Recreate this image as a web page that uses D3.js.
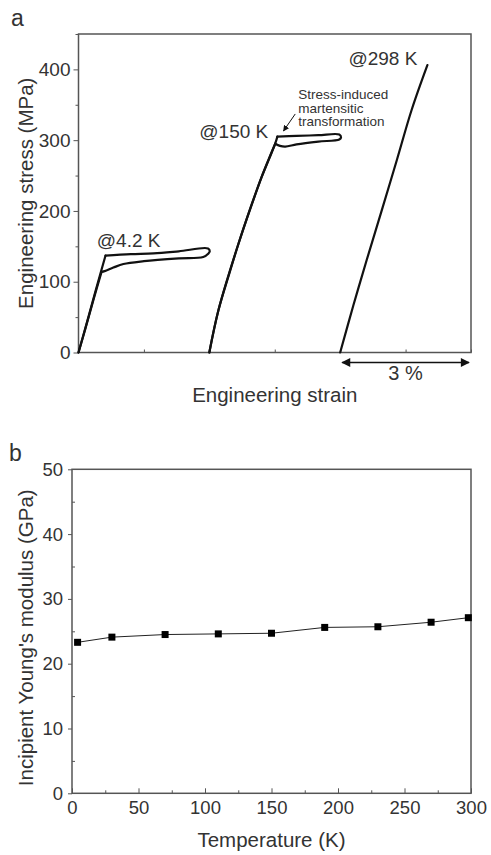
<!DOCTYPE html>
<html>
<head>
<meta charset="utf-8">
<script src="https://cdn.jsdelivr.net/npm/d3@7"></script>
<style>
  body { margin: 0; background: #fff; }
  svg text { font-family: "Liberation Sans", Arial, sans-serif; fill: #333; }
</style>
</head>
<body>
<svg id="fig" width="491" height="855"></svg>
<script>
// Panel a : stress-strain curves (strain in %, stress in MPa, curves offset along strain)
const strain4K = [0, 0.2, 0.4, 0.62, 1.2, 1.72, 2.3, 2.97, 3.01, 2.98, 2.86, 2.3, 1.5, 1.03, 0.8, 0.6, 0.53, 0.35, 0.15, 0];
const stress4K = [0, 44, 89, 137, 139, 140, 143, 147, 143, 140, 135, 133, 129, 125, 120, 115, 114, 76, 32, 0];
const corners4K = [3, 16];

const strain150K = [3.0, 3.21, 3.45, 3.67, 3.95, 4.20, 4.38, 4.51, 4.56, 5.0, 5.5, 5.98, 6.02, 5.98, 5.5, 5.0, 4.74, 4.62, 4.51, 4.20, 3.67, 3.21, 3.0];
const stress150K = [0, 60, 110, 154, 205, 248, 275, 295, 305, 306, 307, 308, 304, 301, 298, 294, 291, 292, 295, 248, 154, 60, 0];
const corners150K = [8, 18];

const strain298K = [6.0, 6.3, 6.61, 6.95, 7.30, 7.64, 8.0];
const stress298K = [0, 66, 131, 200, 272, 343, 406];
const corners298K = [];

const curveLabels = ["@4.2 K", "@150 K", "@298 K"];
const curveLabelX = [0.42, 2.77, 6.19];
const curveLabelY = [148.6, 303.5, 406];

const noteLines = ["Stress-induced", "martensitic", "transformation"];
const stressTicks = [0, 100, 200, 300, 400];
const strainTicks = [0, 1.5, 3, 4.5, 6, 7.5, 9];
const scaleBar = [6, 9]; // 3 % strain

// Panel b : incipient Young's modulus vs temperature
const temps = [4.2, 30, 70, 110, 150, 190, 230, 270, 298];
const modulus = [23.3, 24.1, 24.5, 24.6, 24.7, 25.6, 25.7, 26.4, 27.1];
const tempTicks = [0, 50, 100, 150, 200, 250, 300];
const modTicks = [0, 10, 20, 30, 40, 50];

const svg = d3.select('#fig');
const frameColor = '#555';
const defs = svg.append('defs');

// small arrow head for the annotation
defs.append('marker')
  .attr('id', 'head')
  .attr('viewBox', '0 0 10 10')
  .attr('refX', 9).attr('refY', 5)
  .attr('markerWidth', 6).attr('markerHeight', 6)
  .attr('orient', 'auto-start-reverse')
  .append('path').attr('d', 'M0,0L10,5L0,10Z').attr('fill', '#111');

// larger head for the 3 % bar
defs.append('marker')
  .attr('id', 'bighead')
  .attr('viewBox', '0 0 10 10')
  .attr('refX', 9).attr('refY', 5)
  .attr('markerWidth', 16).attr('markerHeight', 9)
  .attr('markerUnits', 'userSpaceOnUse')
  .attr('orient', 'auto-start-reverse')
  .append('path').attr('d', 'M0,0L10,5L0,10Z').attr('fill', '#111');

// ---------- panel a ----------
const xa = d3.scaleLinear().domain([0, 9]).range([78.5, 471]);
const ya = d3.scaleLinear().domain([0, 450]).range([352.5, 34]);

const ga = svg.append('g');

// y axis, ticks outside
ga.append('g')
  .attr('transform', 'translate(' + xa(0) + ',0)')
  .call(d3.axisLeft(ya).tickValues(d3.range(50, 451, 100)).tickSize(3).tickFormat(''))
  .call(g => g.select('.domain').remove());
ga.append('g')
  .attr('transform', 'translate(' + xa(0) + ',0)')
  .call(d3.axisLeft(ya).tickValues(stressTicks).tickSize(5).tickPadding(3).tickSizeOuter(0))
  .call(g => g.select('.domain').remove())
  .call(g => g.selectAll('text').style('font-size', '19px').attr('fill', '#333'));

// x axis, ticks inside, no labels
ga.append('g')
  .attr('transform', 'translate(0,' + ya(0) + ')')
  .call(d3.axisTop(xa).tickValues(strainTicks).tickSize(3).tickFormat(''))
  .call(g => g.select('.domain').remove());

ga.selectAll('.tick line').attr('stroke', frameColor);

ga.append('rect')
  .attr('x', xa(0)).attr('y', ya(450))
  .attr('width', xa(9) - xa(0)).attr('height', ya(0) - ya(450))
  .attr('fill', 'none').attr('stroke', frameColor).attr('stroke-width', 1.5);

const line = d3.line()
  .x(d => xa(d[0])).y(d => ya(d[1]))
  .curve(d3.curveCatmullRom.alpha(0.5));

// split each curve at its sharp corners so the spline keeps them crisp
function segments(xs, ys, corners) {
  const pts = d3.zip(xs, ys);
  const cuts = [0, ...corners, pts.length - 1];
  const segs = [];
  for (let k = 0; k < cuts.length - 1; k++) {
    segs.push(pts.slice(cuts[k], cuts[k + 1] + 1));
  }
  return segs;
}
const curveSegs = [
  ...segments(strain4K, stress4K, corners4K),
  ...segments(strain150K, stress150K, corners150K),
  ...segments(strain298K, stress298K, corners298K)
];
ga.selectAll('.curve')
  .data(curveSegs)
  .enter().append('path')
  .attr('class', 'curve')
  .attr('d', line)
  .attr('fill', 'none')
  .attr('stroke', '#111')
  .attr('stroke-width', 2.2)
  .attr('stroke-linejoin', 'round')
  .attr('stroke-linecap', 'round');

ga.selectAll('.clabel')
  .data(curveLabels)
  .enter().append('text')
  .attr('class', 'clabel')
  .attr('x', (d, i) => xa(curveLabelX[i]))
  .attr('y', (d, i) => ya(curveLabelY[i]))
  .style('font-size', '19px')
  .text(d => d);

// annotation
ga.selectAll('.note')
  .data(noteLines)
  .enter().append('text')
  .attr('class', 'note')
  .attr('x', xa(5.04))
  .attr('y', (d, i) => ya(358 - i * 19))
  .style('font-size', '13.5px')
  .text(d => d);

ga.append('line')
  .attr('x1', xa(4.97)).attr('y1', ya(337))
  .attr('x2', xa(4.7)).attr('y2', ya(313))
  .attr('stroke', '#111').attr('stroke-width', 1)
  .attr('marker-end', 'url(#head)');

// 3 % scale bar
ga.append('line')
  .attr('x1', xa(scaleBar[0]) + 2).attr('x2', xa(scaleBar[1]) - 2)
  .attr('y1', 362.5).attr('y2', 362.5)
  .attr('stroke', '#111').attr('stroke-width', 1.6)
  .attr('marker-start', 'url(#bighead)')
  .attr('marker-end', 'url(#bighead)');

ga.append('text')
  .attr('x', xa((scaleBar[0] + scaleBar[1]) / 2)).attr('y', 380)
  .attr('text-anchor', 'middle')
  .style('font-size', '20px')
  .text('3 %');

ga.append('text')
  .attr('x', (xa(0) + xa(9)) / 2).attr('y', 402)
  .attr('text-anchor', 'middle')
  .style('font-size', '20.5px')
  .text('Engineering strain');

ga.append('text')
  .attr('transform', 'translate(33,' + ya(225) + ') rotate(-90)')
  .attr('text-anchor', 'middle')
  .style('font-size', '20.5px')
  .text('Engineering stress (MPa)');

ga.append('text')
  .attr('x', 11).attr('y', 26)
  .style('font-size', '23px')
  .text('a');

// ---------- panel b ----------
const xb = d3.scaleLinear().domain([0, 300]).range([72, 471]);
const yb = d3.scaleLinear().domain([0, 50]).range([793.3, 469.3]);

const gb = svg.append('g');

gb.append('g')
  .attr('transform', 'translate(' + xb(0) + ',0)')
  .call(d3.axisRight(yb).tickValues(d3.range(5, 50, 10)).tickSize(3).tickFormat(''))
  .call(g => g.select('.domain').remove());
gb.append('g')
  .attr('transform', 'translate(' + xb(0) + ',0)')
  .call(d3.axisLeft(yb).tickValues(modTicks).tickSize(4).tickPadding(5).tickSizeOuter(0))
  .call(g => g.select('.domain').remove())
  .call(g => g.selectAll('text').style('font-size', '18.5px').attr('fill', '#333'));

gb.append('g')
  .attr('transform', 'translate(0,' + yb(0) + ')')
  .call(d3.axisTop(xb).tickValues(d3.range(25, 300, 50)).tickSize(3).tickFormat(''))
  .call(g => g.select('.domain').remove());
gb.append('g')
  .attr('transform', 'translate(0,' + yb(0) + ')')
  .call(d3.axisTop(xb).tickValues(tempTicks).tickSize(5).tickFormat(''))
  .call(g => g.select('.domain').remove());
gb.append('g')
  .attr('transform', 'translate(0,' + yb(0) + ')')
  .call(d3.axisBottom(xb).tickValues(tempTicks).tickSize(0).tickPadding(8))
  .call(g => g.select('.domain').remove())
  .call(g => g.selectAll('text').style('font-size', '18.5px').attr('fill', '#333'));

gb.selectAll('.tick line').attr('stroke', frameColor);

gb.append('rect')
  .attr('x', xb(0)).attr('y', yb(50))
  .attr('width', xb(300) - xb(0)).attr('height', yb(0) - yb(50))
  .attr('fill', 'none').attr('stroke', frameColor).attr('stroke-width', 1.5);

const modData = d3.zip(temps, modulus);
gb.append('path')
  .datum(modData)
  .attr('d', d3.line().x(d => xb(d[0])).y(d => yb(d[1])))
  .attr('fill', 'none')
  .attr('stroke', '#222')
  .attr('stroke-width', 1);

gb.selectAll('.pt')
  .data(modData)
  .enter().append('rect')
  .attr('class', 'pt')
  .attr('x', d => xb(d[0]) - 3.5)
  .attr('y', d => yb(d[1]) - 3.5)
  .attr('width', 7).attr('height', 7)
  .attr('fill', '#000');

gb.append('text')
  .attr('x', (xb(0) + xb(300)) / 2).attr('y', 847)
  .attr('text-anchor', 'middle')
  .style('font-size', '20.5px')
  .text('Temperature (K)');

gb.append('text')
  .attr('transform', 'translate(33,' + yb(24) + ') rotate(-90)')
  .attr('text-anchor', 'middle')
  .style('font-size', '20.5px')
  .text("Incipient Young's modulus (GPa)");

gb.append('text')
  .attr('x', 9).attr('y', 461)
  .style('font-size', '23px')
  .text('b');
</script>
</body>
</html>
